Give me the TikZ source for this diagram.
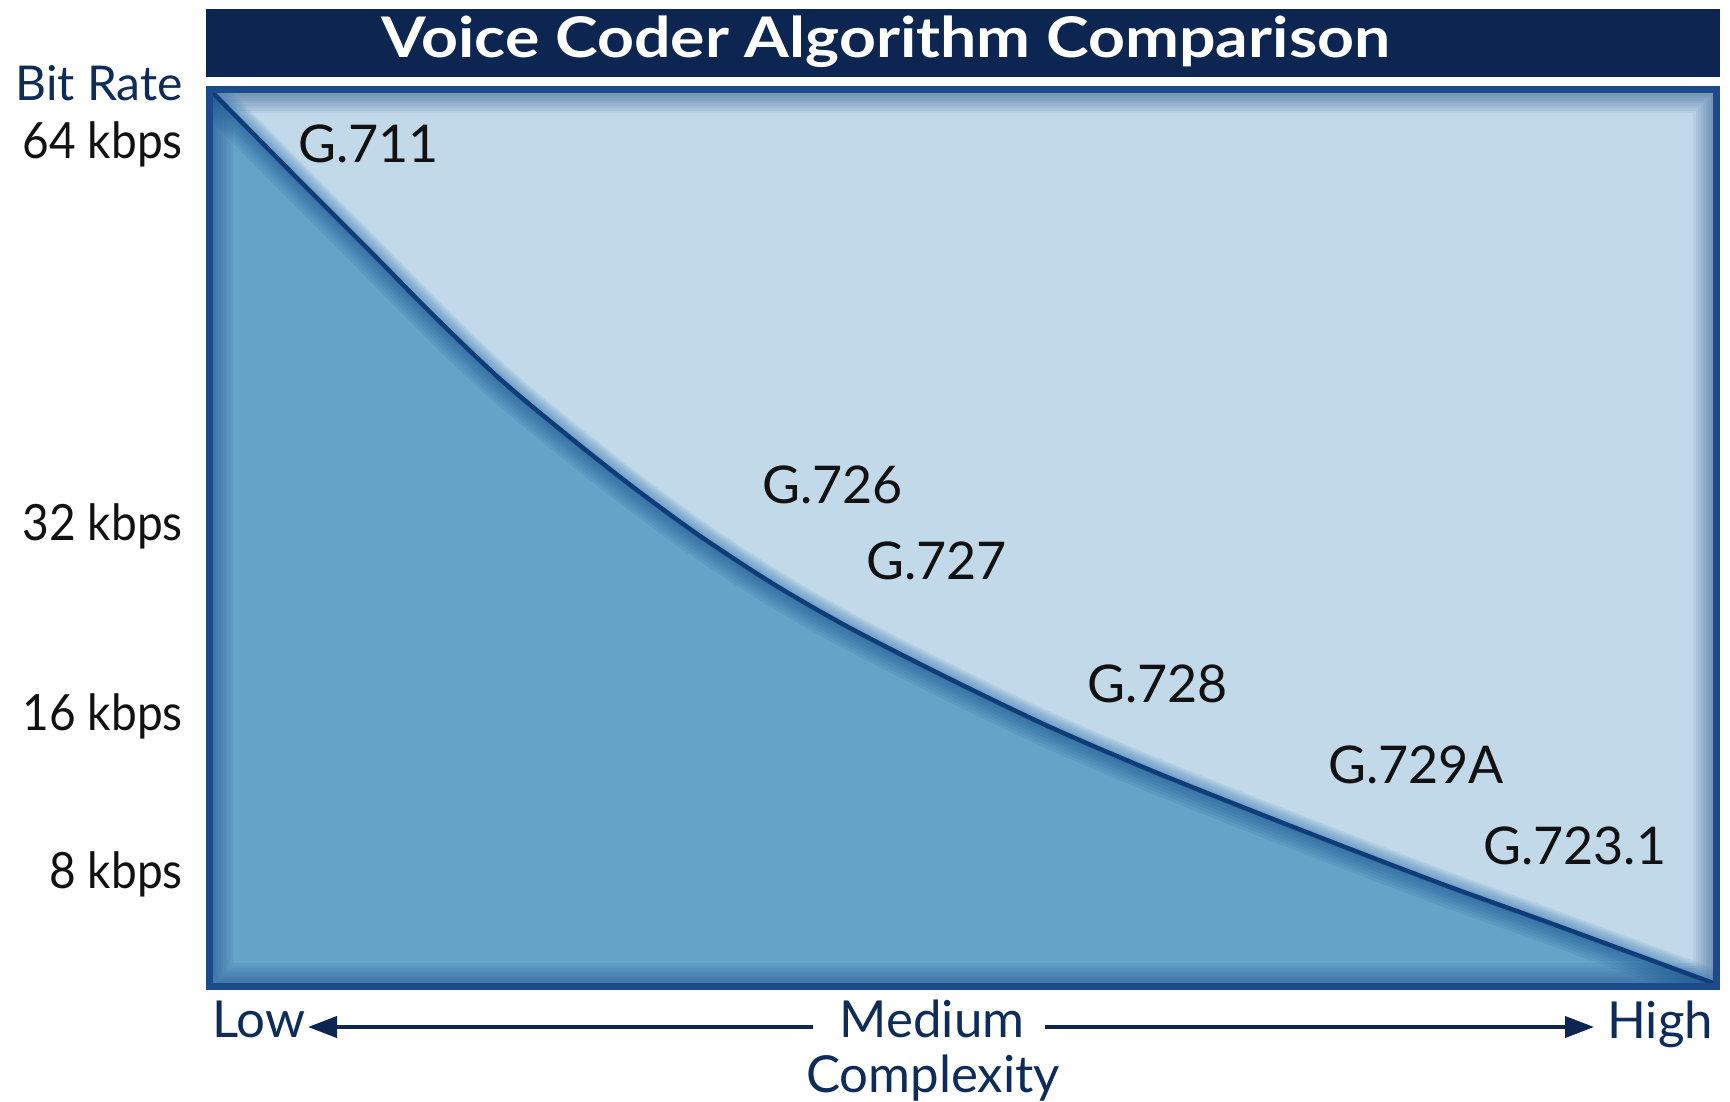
\documentclass[tikz,border=0pt]{standalone}
\usepackage{fontspec}
\usepackage{graphicx}
\setmainfont{Lato}
\usetikzlibrary{arrows.meta}
\definecolor{titlebg}{HTML}{0C2551}
\definecolor{boxborder}{HTML}{1C4A8A}
\definecolor{lightfill}{HTML}{C2D9E9}
\definecolor{darkfill}{HTML}{65A3C9}
\definecolor{curvecol}{HTML}{0D3C78}
\definecolor{shadecol}{HTML}{124C88}
\definecolor{glowcol}{HTML}{3C7DB5}
\definecolor{navytext}{HTML}{0E2C5A}
\definecolor{labeltext}{HTML}{111111}
\begin{document}
\begin{tikzpicture}[x=1pt,y=-1pt,
  codelabel/.style={anchor=base west,inner sep=0pt,text=labeltext,font=\fontsize{52}{60}\selectfont},
  ratelabel/.style={anchor=base east,inner sep=0pt,text=labeltext,font=\fontsize{50}{58}\selectfont},
  axislabel/.style={inner sep=0pt,text=navytext,font=\fontsize{51}{58}\selectfont},
  axisarrow/.style={draw=titlebg,line width=4pt,-{Triangle[length=29pt,width=21pt]}}]
\useasboundingbox (0,0) rectangle (1730,1101);
\def\curveline{plot[smooth,tension=0.5] coordinates {(213,93) (300,181) (367,248) (433,315) (500,379) (567,435) (633,487) (700,536) (775,585) (850,628) (950,679) (1050,727) (1150,770) (1250,810) (1350,849) (1450,887) (1550,923) (1713,983)}}
\def\darkregion{(213,983) -- plot[smooth,tension=0.5] coordinates {(213,93) (300,181) (367,248) (433,315) (500,379) (567,435) (633,487) (700,536) (775,585) (850,628) (950,679) (1050,727) (1150,770) (1250,810) (1350,849) (1450,887) (1550,923) (1713,983)} -- cycle}
\def\lightregion{(1713,93) -- plot[smooth,tension=0.5] coordinates {(213,93) (300,181) (367,248) (433,315) (500,379) (567,435) (633,487) (700,536) (775,585) (850,628) (950,679) (1050,727) (1150,770) (1250,810) (1350,849) (1450,887) (1550,923) (1713,983)} -- cycle}
% title bar
\fill[titlebg] (206,9) rectangle (1720,77);
\node[anchor=base,inner sep=0pt,text=white,font=\bfseries\fontsize{56}{64}\selectfont] (title) at (886,57) {\scalebox{1.15}[1]{Voice Coder Algorithm Comparison}};
% plot area
\fill[lightfill] (213,93) rectangle (1713,983);
\fill[darkfill] \darkregion;
\begin{scope}
  \clip (213,93) rectangle (1713,983);
  \foreach \w in {5,10,...,40}
    \draw[boxborder,opacity=0.07,line width=\w pt] (213,93) rectangle (1713,983);
\end{scope}
\begin{scope}
  \clip \darkregion;
  \foreach \w in {6,12,...,42}
    \draw[shadecol,opacity=0.1,line width=\w pt] \curveline;
\end{scope}
\begin{scope}
  \clip \lightregion;
  \foreach \w in {4,8,...,28}
    \draw[glowcol,opacity=0.12,line width=\w pt] \curveline;
\end{scope}
\draw[curvecol,line width=4.5pt] \curveline;
\draw[boxborder,line width=7pt] (209.5,89.5) rectangle (1716.5,986.5);
% codec labels
\node[codelabel] (g711) at (298,162) {G.711};
\node[codelabel] (g726) at (762,503) {G.726};
\node[codelabel] (g727) at (866,579) {G.727};
\node[codelabel] (g728) at (1087,702) {G.728};
\node[codelabel] (g729a) at (1328,783) {G.729A};
\node[codelabel] (g7231) at (1483,864) {G.723.1};
% y axis
\node[anchor=base east,inner sep=0pt,text=navytext,font=\fontsize{48}{56}\selectfont] (bitrate) at (183,100) {Bit Rate};
\node[ratelabel] (r64) at (183,158) {\scalebox{0.92}[1]{64 kbps}};
\node[ratelabel] (r32) at (183,540) {\scalebox{0.92}[1]{32 kbps}};
\node[ratelabel] (r16) at (183,730) {\scalebox{0.92}[1]{16 kbps}};
\node[ratelabel] (r8) at (183,888) {\scalebox{0.92}[1]{8 kbps}};
% x axis
\node[axislabel,anchor=base west] (low) at (212,1037) {Low};
\node[axislabel,anchor=base west] (high) at (1607,1038) {High};
\node[axislabel,anchor=base] (medium) at (932,1037) {Medium};
\node[axislabel,anchor=base] (complexity) at (933,1092) {Complexity};
\coordinate (lowtip) at (308,1027);
\coordinate (hightip) at (1594,1027);
\coordinate (medl) at (813,1027);
\coordinate (medr) at (1045,1027);
\draw[axisarrow] (medl) -- (lowtip);
\draw[axisarrow] (medr) -- (hightip);
\end{tikzpicture}
\end{document}
